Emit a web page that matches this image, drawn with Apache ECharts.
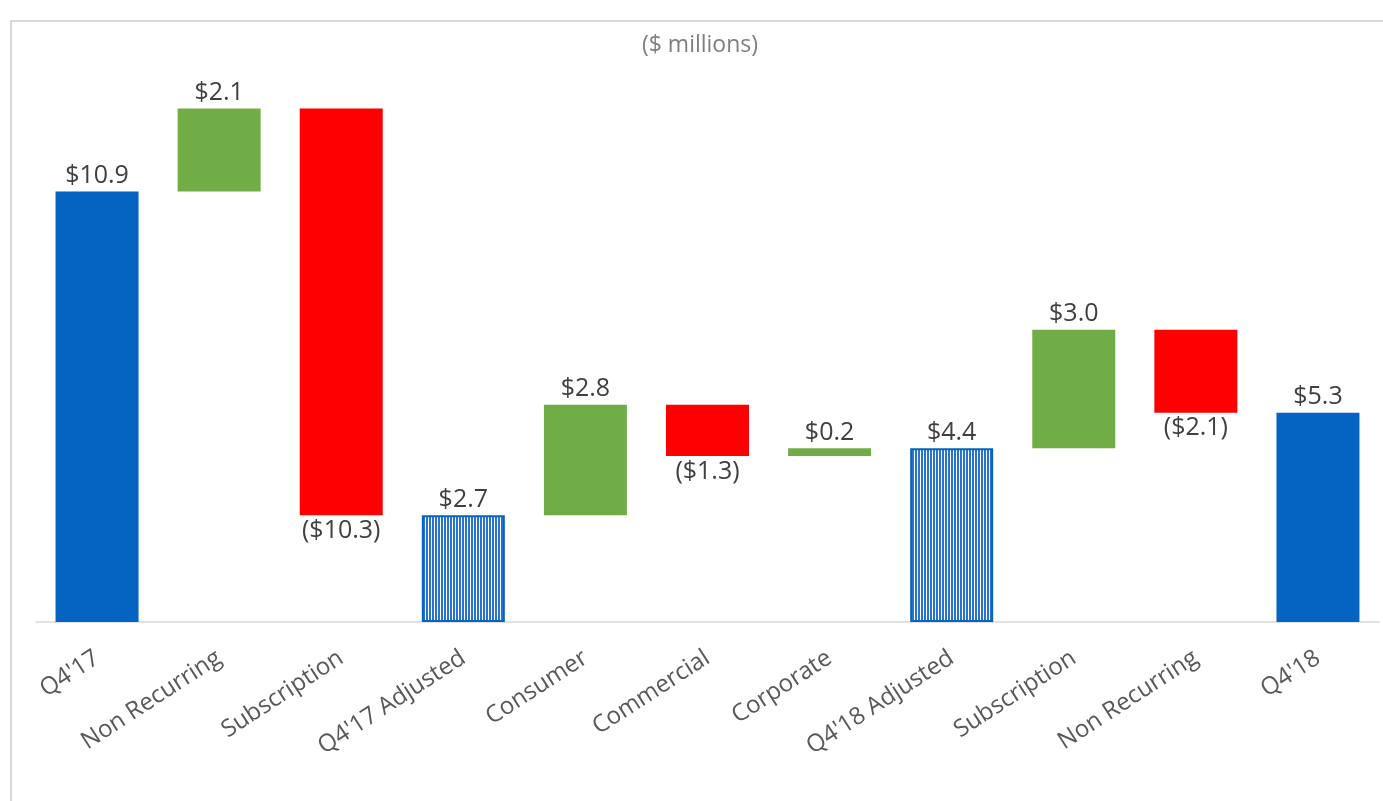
<!DOCTYPE html>
<html>
<head>
<meta charset="utf-8">
<script src="https://cdn.jsdelivr.net/npm/echarts@6/dist/echarts.min.js"></script>
<style>
  html, body { margin: 0; padding: 0; background: #fff; }
  #frame {
    position: absolute; left: 10px; top: 20px; width: 1373px; height: 781px;
    border-left: 2px solid #d9d9d9; border-top: 2px solid #d9d9d9; box-sizing: border-box;
  }
  #chart { position: absolute; left: 0; top: 0; width: 1383px; height: 801px; }
</style>
</head>
<body>
<div id="frame"></div>
<div id="chart"></div>
<script>
  const categories = ["Q4'17", 'Non Recurring', 'Subscription', "Q4'17 Adjusted", 'Consumer',
    'Commercial', 'Corporate', "Q4'18 Adjusted", 'Subscription', 'Non Recurring', "Q4'18"];
  // total = bar from zero, delta = floating change
  const kinds = ['total', 'delta', 'delta', 'adjusted', 'delta', 'delta', 'delta', 'adjusted', 'delta', 'delta', 'total'];
  const values = [10.9, 2.1, -10.3, 2.7, 2.8, -1.3, 0.2, 4.4, 3.0, -2.1, 5.3];

  const BLUE = '#0563c1';
  const GREEN = '#70ad47';
  const RED = '#ff0000';

  function stripePattern() {
    const c = document.createElement('canvas');
    c.width = 3;
    c.height = 3;
    const ctx = c.getContext('2d');
    ctx.fillStyle = '#ffffff';
    ctx.fillRect(0, 0, 3, 3);
    ctx.fillStyle = '#2874d0';
    ctx.fillRect(0, 0, 2, 3);
    return c;
  }
  const stripes = stripePattern();

  function fmt(v) {
    const s = '$' + Math.abs(v).toFixed(1);
    return v < 0 ? '(' + s + ')' : s;
  }

  const baseData = [];
  const barData = [];
  let running = 0;
  values.forEach((v, i) => {
    const kind = kinds[i];
    let base, height, style;
    if (kind !== 'delta') {
      running = v;
      base = 0;
      height = v;
      style = kind === 'total'
        ? { color: BLUE }
        : { color: { image: stripes, repeat: 'repeat' }, borderColor: BLUE, borderWidth: 2 };
    } else {
      const next = running + v;
      base = Math.min(running, next);
      height = Math.abs(v);
      style = { color: v >= 0 ? GREEN : RED };
      running = next;
    }
    baseData.push(+base.toFixed(2));
    barData.push({
      value: +height.toFixed(2),
      itemStyle: style,
      label: {
        position: v < 0 ? 'bottom' : 'top',
        formatter: fmt(v),
      },
    });
  });

  const chart = echarts.init(document.getElementById('chart'));
  chart.setOption({
    animation: false,
    title: {
      text: '($ millions)',
      left: 695,
      top: 29,
      textAlign: 'center',
      textStyle: { color: '#7f7f7f', fontSize: 23, fontWeight: 400, fontFamily: 'Open Sans' },
    },
    grid: { left: 36, right: 4, top: 69, bottom: 179 },
    xAxis: {
      type: 'category',
      data: categories,
      axisLine: { lineStyle: { color: '#d9d9d9', width: 1.5 } },
      axisTick: { show: false },
      axisLabel: {
        rotate: 33,
        interval: 0,
        margin: 34,
        color: '#595959',
        fontSize: 24,
        fontFamily: 'Open Sans',
      },
    },
    yAxis: {
      type: 'value',
      min: 0,
      max: 14,
      show: false,
      splitLine: { show: false },
    },
    series: [
      {
        type: 'bar',
        stack: 'wf',
        data: baseData,
        barWidth: 83,
        itemStyle: { color: 'transparent' },
        silent: true,
      },
      {
        type: 'bar',
        stack: 'wf',
        data: barData,
        barWidth: 83,
        label: {
          show: true,
          distance: 3,
          color: '#404040',
          fontSize: 25,
          fontFamily: 'Open Sans',
        },
      },
    ],
  });
</script>
</body>
</html>
